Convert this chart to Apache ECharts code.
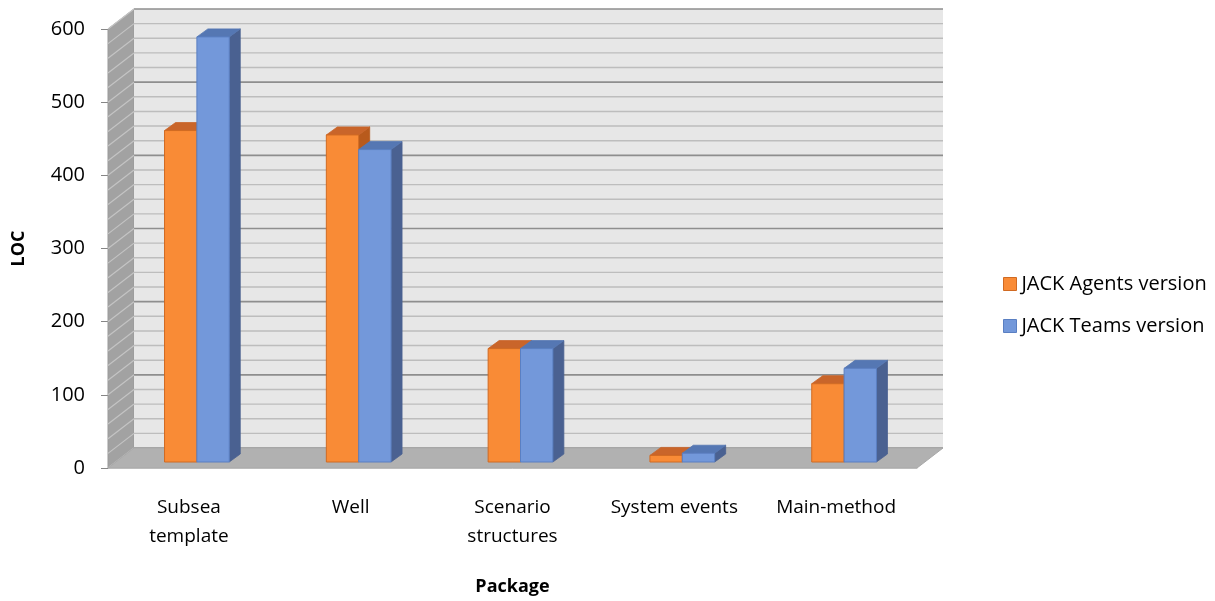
<!DOCTYPE html>
<html>
<head>
<meta charset="utf-8">
<title>LOC per package</title>
<script src="https://cdn.jsdelivr.net/npm/echarts@6/dist/echarts.min.js"></script>
<style>
  html, body { margin: 0; padding: 0; background: #ffffff; }
  #chart { width: 1215px; height: 601px; }
</style>
</head>
<body>
<div id="chart"></div>
<script>
// Lines of code per package, for the two implementations
const categories = ['Subsea\ntemplate', 'Well', 'Scenario\nstructures', 'System events', 'Main-method'];
const seriesNames = ['JACK Agents version', 'JACK Teams version'];
const agentsLoc = [453, 447, 155, 9, 107];
const teamsLoc = [581, 427, 155, 12, 128];
const yMin = 0;
const yMax = 600;
const yStep = 100;
const minorStep = 20;

// Oblique depth of the plot box and of the bars (pixels)
const WALL_DX = 26, WALL_DY = -20;
const BAR_FX = 8, BAR_FY = -6;     // bar front face, set back from the front plane
const BAR_DX = 11, BAR_DY = -8;    // bar depth
const BAR_FRACTION = 0.2;          // bar width as a share of the category band

const FONT = "'Open Sans', 'Liberation Sans', sans-serif";

const palette = {
  agents: { front: '#f98b36', border: '#d06a22', top: '#c9652a', side: '#b85a1c' },
  teams:  { front: '#7398da', border: '#5a7fc2', top: '#5577b3', side: '#4a6191' }
};

function renderWall(params, api) {
  const cs = params.coordSys;
  const x0 = cs.x, x1 = cs.x + cs.width;
  const yBase = api.coord([0, yMin])[1];
  const yTop = api.coord([0, yMax])[1];
  const children = [];

  // left side wall
  children.push({
    type: 'polygon',
    shape: { points: [[x0, yBase], [x0, yTop], [x0 + WALL_DX, yTop + WALL_DY], [x0 + WALL_DX, yBase + WALL_DY]] },
    style: { fill: '#a2a2a2', stroke: '#999999', lineWidth: 1 }
  });
  // back wall
  children.push({
    type: 'rect',
    shape: { x: x0 + WALL_DX, y: yTop + WALL_DY, width: x1 - x0, height: yBase - yTop },
    style: { fill: '#e7e7e7' }
  });
  // grid lines on the back and side walls
  for (let v = yMin; v <= yMax; v += minorStep) {
    const y = api.coord([0, v])[1];
    const major = v % yStep === 0;
    children.push({
      type: 'line',
      shape: { x1: x0 + WALL_DX, y1: y + WALL_DY, x2: x1 + WALL_DX, y2: y + WALL_DY },
      style: { stroke: major ? '#8e8e8e' : '#bdbdbd', lineWidth: major ? 1.6 : 1.4 }
    });
    children.push({
      type: 'line',
      shape: { x1: x0, y1: y, x2: x0 + WALL_DX, y2: y + WALL_DY },
      style: { stroke: '#c4c4c4', lineWidth: 1.2 }
    });
  }
  // floor
  children.push({
    type: 'polygon',
    shape: { points: [[x0, yBase], [x0 + WALL_DX, yBase + WALL_DY], [x1 + WALL_DX, yBase + WALL_DY], [x1, yBase]] },
    style: { fill: '#b1b1b1', stroke: '#a9a9a9', lineWidth: 1 }
  });
  return { type: 'group', children: children };
}

function makeBarRenderer(side, colors) {
  return function (params, api) {
    const idx = api.value(0);
    const val = api.value(1);
    const top = api.coord([idx, val]);
    const base = api.coord([idx, 0]);
    const w = api.size([1, 0])[0] * BAR_FRACTION;
    const cx = top[0] + BAR_FX;
    const xa = side < 0 ? cx - w : cx;
    const xb = xa + w;
    const yt = top[1] + BAR_FY;
    const yb = base[1] + BAR_FY;
    return {
      type: 'group',
      children: [
        {
          type: 'polygon',
          shape: { points: [[xb, yt], [xb + BAR_DX, yt + BAR_DY], [xb + BAR_DX, yb + BAR_DY], [xb, yb]] },
          style: { fill: colors.side, stroke: colors.side, lineWidth: 0.8 }
        },
        {
          type: 'polygon',
          shape: { points: [[xa, yt], [xa + BAR_DX, yt + BAR_DY], [xb + BAR_DX, yt + BAR_DY], [xb, yt]] },
          style: { fill: colors.top, stroke: colors.top, lineWidth: 0.8 }
        },
        {
          type: 'rect',
          shape: { x: xa, y: yt, width: w, height: yb - yt },
          style: { fill: colors.front, stroke: colors.border, lineWidth: 1 }
        }
      ]
    };
  };
}

const chart = echarts.init(document.getElementById('chart'), null, { renderer: 'canvas' });

chart.setOption({
  animation: false,
  backgroundColor: '#ffffff',
  textStyle: { fontFamily: FONT },
  grid: { left: 108, right: 298, top: 29, bottom: 129 },
  legend: {
    orient: 'vertical',
    left: 998,
    top: 269,
    itemGap: 22,
    itemWidth: 13,
    itemHeight: 13,
    textStyle: { fontFamily: FONT, fontSize: 20, color: '#000000' },
    data: [
      { name: seriesNames[0], icon: 'rect', itemStyle: { color: palette.agents.front, borderColor: palette.agents.border, borderWidth: 1 } },
      { name: seriesNames[1], icon: 'rect', itemStyle: { color: palette.teams.front, borderColor: palette.teams.border, borderWidth: 1 } }
    ]
  },
  xAxis: {
    type: 'category',
    data: categories,
    name: 'Package',
    nameLocation: 'middle',
    nameGap: 110,
    nameTextStyle: { fontFamily: FONT, fontSize: 18, fontWeight: 'bold', color: '#000000' },
    axisLine: { show: true, lineStyle: { color: '#cfcfcf', width: 1 } },
    axisTick: { show: false },
    axisLabel: { fontFamily: FONT, fontSize: 19, color: '#000000', lineHeight: 29, margin: 25, interval: 0 },
    splitLine: { show: false }
  },
  yAxis: {
    type: 'value',
    min: yMin,
    max: yMax,
    interval: yStep,
    name: 'LOC',
    nameLocation: 'middle',
    nameGap: 80,
    nameTextStyle: { fontFamily: FONT, fontSize: 18, fontWeight: 'bold', color: '#000000' },
    axisLine: { show: true, lineStyle: { color: '#868686', width: 1 } },
    axisTick: { show: true, length: 7, lineStyle: { color: '#868686' } },
    axisLabel: { fontFamily: FONT, fontSize: 20, color: '#000000', margin: 23 },
    splitLine: { show: false }
  },
  series: [
    {
      name: 'wall',
      type: 'custom',
      silent: true,
      z: 1,
      data: [[0, 0]],
      encode: { x: 0, y: 1 },
      renderItem: renderWall
    },
    {
      name: seriesNames[0],
      type: 'custom',
      z: 2,
      itemStyle: { color: palette.agents.front },
      data: agentsLoc.map((v, i) => [i, v]),
      encode: { x: 0, y: 1 },
      renderItem: makeBarRenderer(-1, palette.agents)
    },
    {
      name: seriesNames[1],
      type: 'custom',
      z: 3,
      itemStyle: { color: palette.teams.front },
      data: teamsLoc.map((v, i) => [i, v]),
      encode: { x: 0, y: 1 },
      renderItem: makeBarRenderer(1, palette.teams)
    }
  ]
});
</script>
</body>
</html>
